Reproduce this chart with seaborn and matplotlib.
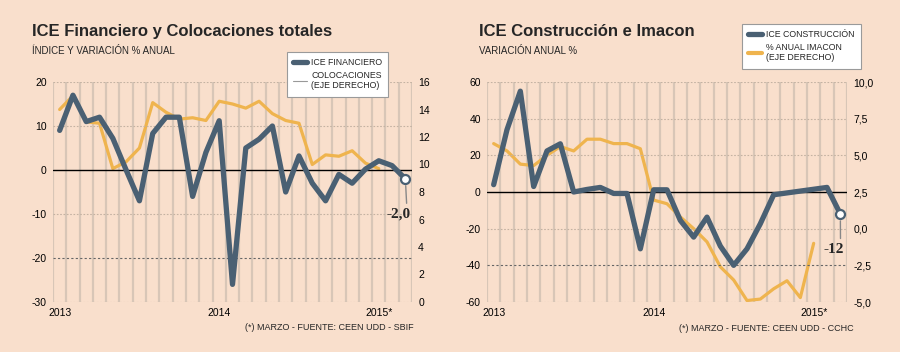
import numpy as np
import pandas as pd
import matplotlib
matplotlib.use("Agg")
import matplotlib.pyplot as plt
from matplotlib.lines import Line2D
import seaborn as sns

# datos mensuales, ene-2013 a mar-2015
ice_financiero = [9, 17, 11, 12, 7.2, 0, -7, 8.3, 12, 12, -6, 4, 11.2, -26,
                  5, 7, 10, -5, 3.2, -3, -7, -1, -3, 0.2, 2.1, 1.0, -2.0]
colocaciones = [14.0, 15.0, 13.1, 13.0, 9.7, 10.2, 11.2, 14.5, 13.8, 13.3, 13.4,
                13.2, 14.6, 14.4, 14.1, 14.6, 13.7, 13.2, 13.0, 10.0, 10.7, 10.6,
                11.0, 10.1, 9.7]
ice_construccion = [4, 34, 55, 3, 22.4, 26.3, 0, 1.4, 2.5, -0.8, -0.8, -31, 1.2,
                    1.2, -15.5, -24.6, -13.7, -29.5, -40, -31, -17.3, -1.5, -0.5,
                    0.5, 1.5, 2.5, -12]
imacon = [5.8, 5.3, 4.4, 4.3, 5.0, 5.6, 5.3, 6.1, 6.1, 5.8, 5.8, 5.45, 1.95, 1.7,
          0.8, 0.0, -0.9, -2.6, -3.5, -4.9, -4.8, -4.1, -3.55, -4.7, -1.0]

year_pos = [0, 12, 24]
year_labels = ["2013", "2014", "2015*"]

BG = "#f9dfcc"
BLUE = "#4a6073"
ORANGE = "#efb44e"
VGRID = "#d8c6b7"

sns.set_theme(style="white")
plt.rcParams["font.family"] = ["Liberation Sans", "DejaVu Sans"]
NARROW = ["Liberation Sans Narrow", "Liberation Sans", "DejaVu Sans"]

fig = plt.figure(figsize=(9, 3.52), dpi=100, facecolor=BG)


def panel(rect, main, sec, ylim, ylim2, yticks, yticks2, fmt2, dark, label):
    ax = fig.add_axes(rect)
    ax2 = ax.twinx()
    n = len(main)
    x = np.arange(n)
    df = pd.DataFrame({"mes": x, "v": main})
    df2 = pd.DataFrame({"mes": x[:len(sec)], "v": sec})

    ax2.set_facecolor(BG)
    ax.patch.set_visible(False)
    ax.set_zorder(ax2.get_zorder() + 1)

    # grilla vertical mensual en el eje inferior
    for b in np.arange(n + 1) - 0.5:
        ax2.axvline(b, color=VGRID, lw=1.6, zorder=0)

    sns.lineplot(data=df2, x="mes", y="v", ax=ax2, color=ORANGE, lw=2.3,
                 legend=False, zorder=2)
    for t in yticks:
        if t == 0:
            ax.axhline(t, color="black", lw=1.0, zorder=1)
        elif t == dark:
            ax.axhline(t, color="#666666", lw=0.8, ls=(0, (2, 2)), zorder=1)
        else:
            ax.axhline(t, color="#c4b2a2", lw=0.8, ls=(0, (1.5, 1.5)), zorder=1)
    sns.lineplot(data=df, x="mes", y="v", ax=ax, color=BLUE, lw=3.8,
                 legend=False, zorder=3)
    ax.plot(x[-1], main[-1], "o", mfc="white", mec=BLUE, ms=6.5, mew=1.6, zorder=4)
    ax.annotate(label, xy=(x[-1], main[-1]), xytext=(-5, -21),
                textcoords="offset points", ha="center", va="top",
                fontsize=11, fontweight="bold", family="Liberation Serif",
                arrowprops=dict(arrowstyle="-", color="#888888", lw=1,
                                relpos=(0.85, 1.0), shrinkA=1, shrinkB=5))

    ax.set_xlim(-0.5, n - 0.5)
    ax.set_ylim(*ylim)
    ax2.set_ylim(*ylim2)
    ax.set_yticks(yticks)
    ax.set_yticklabels([str(t) for t in yticks])
    ax2.set_yticks(yticks2)
    ax2.set_yticklabels([fmt2(t) for t in yticks2])
    ax.set_xticks(year_pos)
    ax.set_xticklabels(year_labels)
    ax2.tick_params(axis="x", length=0, labelbottom=False)
    ax.tick_params(axis="both", length=0, pad=4.5, labelsize=7.5, colors="black")
    ax2.tick_params(axis="y", length=0, pad=4.5, labelsize=7.5, colors="black")
    ax.set_xlabel("")
    ax.set_ylabel("")
    ax2.set_ylabel("")
    for a in (ax, ax2):
        for s in a.spines.values():
            s.set_visible(False)
    return ax


panel([53 / 900, 50 / 352, 359 / 900, 220 / 352], ice_financiero, colocaciones,
      (-30, 20), (0, 16), [20, 10, 0, -10, -20, -30], list(range(0, 17, 2)),
      lambda v: str(int(v)), -20, "-2,0")
panel([487 / 900, 50 / 352, 360 / 900, 220 / 352], ice_construccion, imacon,
      (-60, 60), (-5, 10), [60, 40, 20, 0, -20, -40, -60],
      [-5.0, -2.5, 0.0, 2.5, 5.0, 7.5, 10.0],
      lambda v: f"{v:.1f}".replace(".", ","), -40, "-12")

# títulos
fig.text(32 / 900, 1 - 36 / 352, "ICE Financiero y Colocaciones totales",
         fontsize=12, fontweight="bold", va="baseline")
fig.text(32 / 900, 1 - 54 / 352, "ÍNDICE Y VARIACIÓN % ANUAL", fontsize=7,
         family=NARROW, va="baseline")
fig.text(479 / 900, 1 - 36.5 / 352, "ICE Construcción e Imacon",
         fontsize=12, fontweight="bold", va="baseline")
fig.text(479 / 900, 1 - 54 / 352, "VARIACIÓN ANUAL %", fontsize=7,
         family=NARROW, va="baseline")

fig.text(414 / 900, 1 - 330 / 352, "(*) MARZO - FUENTE: CEEN UDD - SBIF",
         fontsize=6.5, family=NARROW, ha="right", va="baseline")
fig.text(854 / 900, 1 - 331 / 352, "(*) MARZO - FUENTE: CEEN UDD - CCHC",
         fontsize=6.5, family=NARROW, ha="right", va="baseline")

# leyendas
leg_kw = dict(loc="upper left", borderaxespad=0, fancybox=False, framealpha=1,
              facecolor="white", edgecolor="#9a9a9a", handlelength=1.6,
              handletextpad=0.45, labelspacing=0.45, borderpad=0.7,
              prop={"family": NARROW, "size": 6.3})
h1 = [Line2D([], [], color=BLUE, lw=3.8, solid_capstyle="round"),
      Line2D([], [], color="#999999", lw=0.8)]
l1 = fig.legend(h1, ["ICE FINANCIERO", "COLOCACIONES\n(EJE DERECHO)"],
                bbox_to_anchor=(287 / 900, 1 - 52 / 352), **leg_kw)
l1.get_frame().set_linewidth(0.8)
h2 = [Line2D([], [], color=BLUE, lw=3.8, solid_capstyle="round"),
      Line2D([], [], color=ORANGE, lw=3.0)]
l2 = fig.legend(h2, ["ICE CONSTRUCCIÓN", "% ANUAL IMACON\n(EJE DERECHO)"],
                bbox_to_anchor=(742 / 900, 1 - 24 / 352), **leg_kw)
l2.get_frame().set_linewidth(0.8)

fig.savefig("out.png", dpi=100, facecolor=BG)
